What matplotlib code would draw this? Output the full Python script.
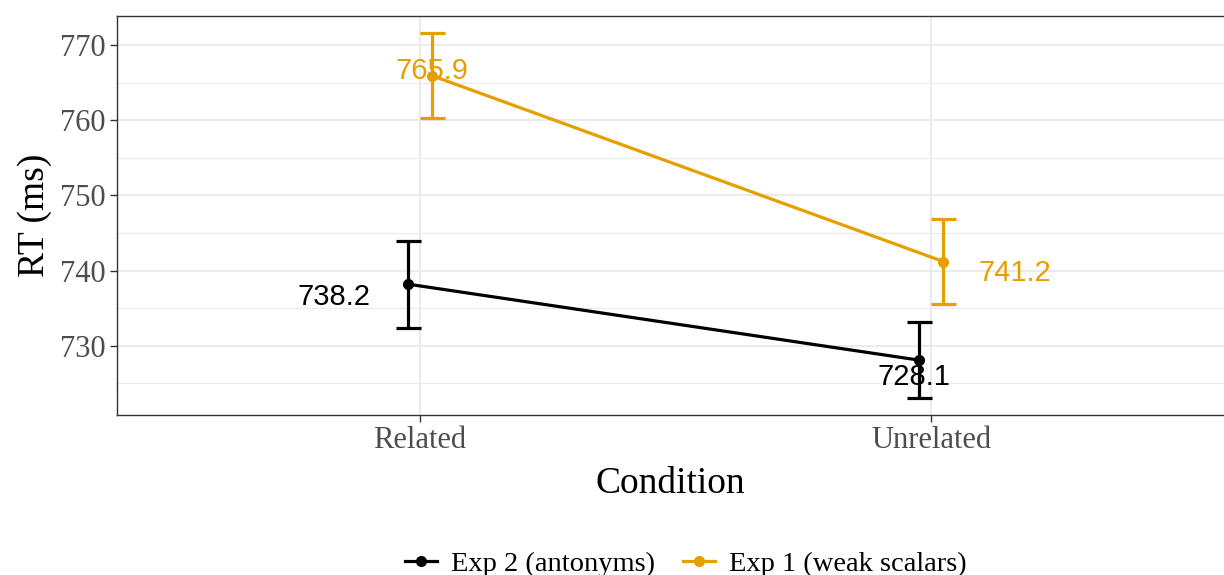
import numpy as np
import matplotlib.pyplot as plt
from matplotlib.ticker import MultipleLocator

conditions = ["Related", "Unrelated"]
series = ["Exp 2 (antonyms)", "Exp 1 (weak scalars)"]
colors = ["#000000", "#E69F00"]
means = [[738.2, 728.1], [765.9, 741.2]]
errors = [[5.8, 5.1], [5.65, 5.65]]
labels = [["738.2", "728.1"], ["765.9", "741.2"]]

# label nudges (x in category units, y in ms)
nudges = [[(-0.145, -1.7), (-0.01, -2.3)], [(0.0, 0.7), (0.14, -1.5)]]
dodge = [-0.024, 0.024]

plt.rcParams['font.family'] = ['Liberation Serif', 'DejaVu Serif']

fig = plt.figure(figsize=(12.24, 5.75), dpi=100)
ax = fig.add_axes([117/1224, 160/575, 1 - 117/1224, (415-16)/575])

x = np.arange(1, len(conditions) + 1)
handles = []
for i in range(len(series)):
    xs = x + dodge[i]
    h, = ax.plot(xs, means[i], color=colors[i], lw=2.3, marker='o', ms=7, zorder=3)
    ax.errorbar(xs, means[i], yerr=errors[i], fmt='none', ecolor=colors[i],
                elinewidth=2.3, capsize=9, capthick=2.3, zorder=3)
    handles.append(h)
    for j in range(len(conditions)):
        ax.text(xs[j] + nudges[i][j][0], means[i][j] + nudges[i][j][1], labels[i][j],
                color=colors[i], fontsize=21, family='Liberation Sans',
                ha='center', va='center', zorder=4)

ax.set_xlim(0.407, 2.573)
ax.set_ylim(720.8, 773.85)
ax.set_xticks(x)
ax.set_xticklabels(conditions)
ax.yaxis.set_major_locator(MultipleLocator(10))
ax.yaxis.set_minor_locator(MultipleLocator(5))
ax.grid(which='major', color='#EBEBEB', lw=1.5)
ax.grid(which='minor', axis='y', color='#EBEBEB', lw=0.8)
ax.set_axisbelow(True)
ax.tick_params(which='major', length=5, width=1, color='#333333', labelsize=22,
               labelcolor='#4D4D4D', pad=3)
ax.tick_params(which='minor', length=0)
for s in ax.spines.values():
    s.set_color('#333333')
    s.set_linewidth(1)
ax.spines['right'].set_visible(False)

ax.set_xlabel("Condition", fontsize=27, labelpad=8)
ax.set_ylabel("RT (ms)", fontsize=27, labelpad=6)

fig.legend(handles, series, loc='center', bbox_to_anchor=(686/1224, 1 - 564/575),
           ncol=2, frameon=False, fontsize=20.5, handlelength=1.1, columnspacing=1.0,
           handletextpad=0.5)

fig.savefig("out.png", dpi=100)
